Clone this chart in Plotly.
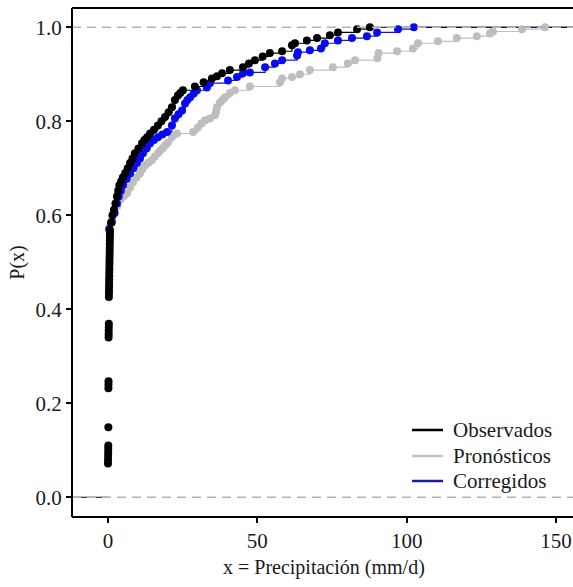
import plotly.graph_objects as go

# ---- data ----
obs_x = [0.00, 0.02, 0.04, 0.06, 0.08, 0.10, 0.12, 0.14, 0.16, 0.18, 0.20, 0.22, 0.24, 0.26, 0.28,
         0.30, 0.32, 0.34, 0.36, 0.38, 0.40, 0.42, 0.44, 0.46, 0.48, 0.50, 0.52, 0.54, 0.56, 0.58,
         0.60, 0.62, 0.64, 0.66, 0.68,
         1.0, 1.5, 2.0, 2.5, 3.0, 3.4, 3.8, 4.4, 5.0, 5.8, 6.6, 7.4, 8.2, 9.0, 10.2, 11.4, 12.2,
         13.1, 14.1, 15.4, 16.7, 17.9, 19.1, 20.3, 21.4, 22.4, 23.4, 24.2, 25.1, 29.1, 32.0, 34.8,
         36.5, 38.2, 40.8, 45.2, 47.2, 49.2, 51.8, 54.2, 58.3, 61.6, 62.6, 66.6, 70.0, 74.3, 77.0,
         83.4, 87.7]
obs_p = [0.072, 0.080, 0.088, 0.095, 0.103, 0.110, 0.149, 0.232, 0.240, 0.247, 0.340, 0.347, 0.355, 0.362, 0.369,
         0.426, 0.434, 0.441, 0.449, 0.456, 0.464, 0.471, 0.479, 0.486, 0.494, 0.501, 0.509, 0.516, 0.524, 0.531,
         0.539, 0.546, 0.554, 0.561, 0.568,
         0.584, 0.600, 0.612, 0.625, 0.640, 0.652, 0.664, 0.672, 0.681, 0.690, 0.700, 0.711, 0.721, 0.732, 0.742, 0.753, 0.760,
         0.766, 0.774, 0.782, 0.791, 0.800, 0.809, 0.819, 0.830, 0.845, 0.855, 0.860, 0.866, 0.874, 0.883, 0.891,
         0.896, 0.902, 0.909, 0.915, 0.923, 0.930, 0.938, 0.945, 0.949, 0.962, 0.966, 0.972, 0.977, 0.983, 0.989,
         0.996, 1.000]

pron_x = [0.5, 1.3, 2.2, 3.2, 4.3, 5.4, 6.4, 7.4, 8.4, 9.5, 10.7, 11.5, 12.4, 13.5, 14.7, 15.7, 16.7, 17.5,
          18.4, 19.2, 20.1, 21.4, 23.1, 28.5, 30.1, 31.3, 32.5, 34.1, 35.8, 36.2, 36.5, 37.5, 38.3, 39.2,
          40.8, 42.5, 47.5, 57.6, 58.3, 61.6, 64.3, 67.6, 75.3, 80.3, 82.7, 90.2, 90.6, 96.8, 102.1, 103.8,
          110.5, 116.8, 123.5, 127.9, 128.9, 138.6, 146.3]
pron_p = [0.575, 0.590, 0.605, 0.620, 0.634, 0.641, 0.647, 0.659, 0.670, 0.680, 0.689, 0.698, 0.706, 0.712, 0.717, 0.725, 0.732, 0.738,
          0.743, 0.749, 0.755, 0.766, 0.774, 0.777, 0.787, 0.795, 0.802, 0.806, 0.813, 0.821, 0.830, 0.840, 0.845, 0.851,
          0.860, 0.866, 0.874, 0.883, 0.891, 0.894, 0.900, 0.909, 0.915, 0.923, 0.930, 0.934, 0.945, 0.949, 0.955, 0.966,
          0.970, 0.977, 0.981, 0.987, 0.991, 0.996, 1.000]

corr_x = [0.4, 1.3, 2.2, 3.0, 3.6, 4.3, 5.0, 6.2, 7.4, 8.5, 9.7, 10.7, 11.7, 12.9, 14.1, 15.4, 16.7, 18.2,
          19.8, 21.4, 22.4, 23.6, 24.8, 25.8, 26.6, 27.5, 28.7, 29.8, 33.1, 34.1, 40.2, 43.2, 45.2, 47.5,
          52.6, 55.9, 58.3, 63.3, 63.6, 67.6, 71.3, 72.6, 77.0, 81.7, 86.7, 90.1, 97.1, 102.4]
corr_p = [0.570, 0.585, 0.605, 0.625, 0.640, 0.652, 0.664, 0.677, 0.689, 0.700, 0.711, 0.721, 0.732, 0.742, 0.753, 0.760, 0.766, 0.772,
          0.777, 0.791, 0.806, 0.815, 0.823, 0.838, 0.845, 0.851, 0.859, 0.866, 0.872, 0.881, 0.887, 0.894, 0.902, 0.904,
          0.915, 0.923, 0.930, 0.940, 0.947, 0.951, 0.955, 0.966, 0.972, 0.977, 0.981, 0.989, 0.996, 1.000]

series_names = ["Observados", "Pronósticos", "Corregidos"]
x_ticks = [0, 50, 100, 150]
y_ticks = [0.0, 0.2, 0.4, 0.6, 0.8, 1.0]
x_range = [-12.05, 156.7]
y_range = [-0.042, 1.041]

FONT = "Liberation Serif"
C_OBS, C_PRON, C_CORR = "#000000", "#bebebe", "#0a0af0"
L_OBS, L_PRON, L_CORR = "#000000", "#c0c0c0", "#1414c8"
LEG_COLS = ["#000000", "#c4c4c4", "#1c1ca0"]

W, H = 576, 587
ML, MR, MT, MB = 72, 0, 8, 70
PW, PH = W - ML - MR, H - MT - MB

def px_x(p):
    return (p - ML) / PW

def px_y(p):
    return (H - MB - p) / PH

fig = go.Figure()

def step_line(xs, ps, color):
    lx = list(xs) + [x_range[1]]
    ly = list(ps) + [1.0]
    fig.add_trace(go.Scatter(x=lx, y=ly, mode="lines", line=dict(color=color, width=1.2, shape="hv"),
                             showlegend=False, hoverinfo="skip"))

step_line(pron_x, pron_p, L_PRON)
step_line(corr_x, corr_p, L_CORR)
obs_cont = [(x, p) for x, p in zip(obs_x, obs_p) if p >= 0.42]
step_line([c[0] for c in obs_cont], [c[1] for c in obs_cont], L_OBS)
fig.add_trace(go.Scatter(x=[x_range[0], obs_x[0]], y=[0, 0], mode="lines",
                         line=dict(color=L_OBS, width=1.2), showlegend=False, hoverinfo="skip"))

for xs, ps, col in [(pron_x, pron_p, C_PRON), (corr_x, corr_p, C_CORR), (obs_x, obs_p, C_OBS)]:
    fig.add_trace(go.Scatter(x=xs, y=ps, mode="markers", marker=dict(color=col, size=8, line=dict(width=0)),
                             showlegend=False))

for yv in [0.0, 1.0]:
    fig.add_shape(type="line", xref="paper", x0=0, x1=1, yref="y", y0=yv, y1=yv,
                  line=dict(color="#b3b3b3", width=1.5, dash="9px,6px"), layer="above")
# panel border: left, bottom, top
fig.add_shape(type="line", xref="paper", x0=0, x1=1, yref="paper", y0=1, y1=1,
              line=dict(color="black", width=2), layer="above")
fig.add_shape(type="line", xref="paper", x0=0, x1=1, yref="paper", y0=0, y1=0,
              line=dict(color="black", width=2), layer="above")
fig.add_shape(type="line", xref="paper", x0=0, x1=0, yref="paper", y0=0, y1=1,
              line=dict(color="black", width=2), layer="above")

# legend (drawn as keys + text inside the panel, bottom right)
leg_rows = [430, 456, 481]
for nm, col, ry in zip(series_names, LEG_COLS, leg_rows):
    fig.add_shape(type="line", xref="paper", yref="paper", x0=px_x(412), x1=px_x(443),
                  y0=px_y(ry), y1=px_y(ry), line=dict(color=col, width=2.5), layer="above")
    fig.add_annotation(xref="paper", yref="paper", x=px_x(451), y=px_y(ry), text=nm,
                       showarrow=False, xanchor="left", yanchor="middle",
                       font=dict(family=FONT, size=21, color="#1a1a1a"))

fig.update_layout(
    width=W, height=H,
    margin=dict(l=ML, r=MR, t=MT, b=MB),
    paper_bgcolor="white", plot_bgcolor="white",
    showlegend=False,
    font=dict(family=FONT, size=21, color="#1a1a1a"),
    xaxis=dict(range=x_range, tickvals=x_ticks, ticktext=[str(v) for v in x_ticks],
               showgrid=False, zeroline=False, showline=False,
               ticks="outside", ticklen=5, tickwidth=1.5, tickcolor="black",
               tickfont=dict(family=FONT, size=21)),
    yaxis=dict(range=y_range, tickvals=y_ticks, ticktext=[f"{v:.1f}" for v in y_ticks],
               showgrid=False, zeroline=False, showline=False,
               ticks="outside", ticklen=5, tickwidth=1.5, tickcolor="black",
               tickfont=dict(family=FONT, size=21),
               title=dict(text="P(x)", font=dict(family=FONT, size=20), standoff=5)),
)
# x-axis title centred on the visible part of the panel
fig.add_annotation(xref="paper", yref="paper", x=px_x(324), y=px_y(568), text="x = Precipitación (mm/d)",
                   showarrow=False, xanchor="center", yanchor="middle",
                   font=dict(family=FONT, size=20, color="#1a1a1a"))

fig.write_html("out.html",
               post_script="document.documentElement.style.overflow='hidden';document.body.style.overflow='hidden';")
